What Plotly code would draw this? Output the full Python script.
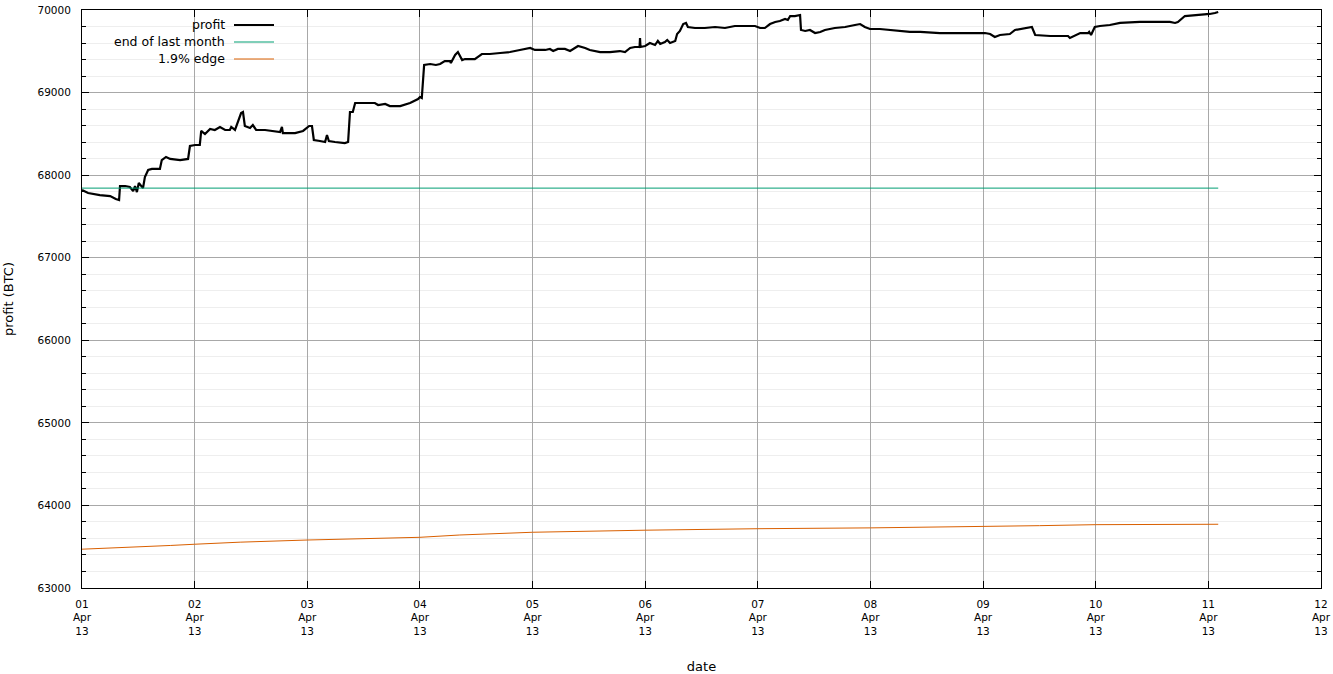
import pandas as pd
import plotly.graph_objects as go

# ---- data (hours after 2013-04-01 00:00, BTC) ----
profit_hours = [0, 1.3, 3.8, 6.0, 7.2, 7.9, 8.1, 9.2, 10.2, 10.9, 11.3, 11.7, 12.1, 13.0, 13.4, 14.1,
                14.9, 16.6, 17.0, 17.9, 18.8, 20.9, 22.6, 23.0, 24.1, 25.1, 25.4, 26.2, 27.3, 28.3,
                29.4, 30.5, 31.5, 31.8, 32.6, 33.2, 33.9, 34.3, 34.7, 35.8, 36.4, 37.1, 39.0, 42.2,
                42.6, 42.8, 45.4, 47.1, 48.4, 49.0, 49.4, 50.7, 51.8, 52.2, 52.6, 53.9, 56.0, 56.7,
                57.1, 57.7, 58.2, 60.3, 62.4, 63.1, 64.6, 65.6, 67.8, 69.9, 71.6, 72.0, 72.4, 72.9,
                74.2, 75.4, 76.3, 77.3, 78.4, 78.6, 79.5, 80.1, 80.5, 81.0, 81.6, 83.7, 85.2, 86.9,
                89.1, 91.2, 93.3, 95.5, 96.5, 98.7, 99.7, 100.4, 101.4, 102.9, 104.0, 105.7, 107.2,
                108.2, 110.4, 112.5, 114.6, 115.7, 116.8, 117.8, 118.8, 118.9, 119.0, 120.0, 121.0,
                122.1, 122.7, 123.2, 124.2, 124.7, 125.3, 126.4, 126.8, 127.4, 128.1, 128.7, 129.1,
                130.6, 132.7, 134.9, 137.0, 139.1, 141.3, 143.4, 144.5, 145.5, 146.6, 147.7, 148.7,
                149.8, 150.4, 150.9, 151.9, 153.0, 153.2, 154.1, 155.1, 156.2, 157.3, 158.3, 160.4,
                162.6, 164.7, 165.8, 166.8, 167.9, 170.0, 172.2, 173.2, 174.3, 175.4, 176.4, 178.6,
                182.8, 187.1, 191.3, 192.4, 193.5, 194.5, 195.6, 197.7, 198.8, 202.0, 202.4, 203.1,
                206.3, 209.5, 210.1, 210.5, 212.7, 214.4, 214.6, 215.0, 215.8, 216.9, 219.0, 221.2,
                225.4, 229.7, 231.8, 232.9, 233.5, 235.0, 238.2, 240.3, 241.4, 242.1]
profit_btc = [67819, 67783, 67758, 67746, 67710, 67698, 67868, 67868, 67856, 67807, 67868, 67795, 67904,
              67843, 67977, 68062, 68075, 68075, 68183, 68220, 68196, 68183, 68196, 68353, 68365,
              68365, 68535, 68498, 68559, 68547, 68583, 68547, 68547, 68583, 68547, 68644, 68752,
              68765, 68595, 68571, 68607, 68547, 68547, 68522, 68583, 68510, 68510, 68535, 68595,
              68595, 68426, 68413, 68401, 68486, 68413, 68401, 68389, 68401, 68765, 68765, 68874,
              68874, 68874, 68849, 68862, 68837, 68837, 68874, 68922, 68946, 68934, 69334, 69346,
              69334, 69346, 69382, 69382, 69358, 69455, 69491, 69455, 69394, 69406, 69406, 69467,
              69467, 69479, 69491, 69516, 69540, 69516, 69516, 69528, 69503, 69528, 69528, 69503,
              69564, 69540, 69516, 69491, 69491, 69503, 69491, 69540, 69552, 69552, 69661, 69552,
              69564, 69600, 69576, 69625, 69588, 69612, 69637, 69600, 69625, 69710, 69746, 69830,
              69843, 69794, 69782, 69782, 69794, 69782, 69806, 69806, 69806, 69782, 69782, 69830,
              69855, 69867, 69891, 69879, 69927, 69927, 69939, 69758, 69746, 69758, 69721, 69734,
              69758, 69782, 69794, 69818, 69830, 69794, 69770, 69770, 69758, 69746, 69746, 69734,
              69734, 69734, 69721, 69721, 69721, 69721, 69709, 69673, 69697, 69709, 69758, 69794,
              69794, 69697, 69685, 69685, 69685, 69661, 69721, 69721, 69734, 69697, 69794, 69806,
              69818, 69843, 69855, 69855, 69855, 69843, 69855, 69927, 69939, 69952, 69964, 69976,
              69964]

edge_hours = [0, 10.2, 18.8, 24, 33.7, 48, 63.5, 72, 80.5, 96, 120, 132, 144, 168, 192, 204, 216,
              227.6, 242.1]
edge_btc = [63470, 63490, 63515, 63530, 63555, 63581, 63605, 63614, 63642, 63675, 63700, 63712,
            63718, 63728, 63740, 63755, 63767, 63771, 63772]

last_month_hours = [0, 242.1]
last_month_btc = [67843, 67843]

day_ticks = ["2013-04-%02d" % d for d in range(1, 13)]
day_labels = ["%02d<br>Apr<br>13" % d for d in range(1, 13)]

legend_names = ["profit", "end of last month", "1.9% edge"]
colors = ["#000000", "#009e73", "#d95f00"]
widths = [2.2, 1, 1]

start = pd.Timestamp("2013-04-01")


def to_time(hours):
    return start + pd.to_timedelta(hours, unit="h")


fig = go.Figure()
fig.add_trace(go.Scatter(x=to_time(profit_hours), y=profit_btc, mode="lines", name=legend_names[0],
                         line=dict(color=colors[0], width=widths[0])))
fig.add_trace(go.Scatter(x=to_time(last_month_hours), y=last_month_btc, mode="lines", name=legend_names[1],
                         line=dict(color=colors[1], width=widths[1])))
fig.add_trace(go.Scatter(x=to_time(edge_hours), y=edge_btc, mode="lines", name=legend_names[2],
                         line=dict(color=colors[2], width=widths[2])))

font_family = "DejaVu Sans"
grid = "#a8a8a8"

# manual gnuplot-style legend (text then sample on the right)
W, H = 1239.0, 578.0
rows_py = [25, 42, 59]
for name, c, w, py in zip(legend_names, colors, widths, rows_py):
    yp = (588 - py) / H
    fig.add_annotation(xref="paper", yref="paper", x=(227 - 82) / W, y=yp, text=name,
                       showarrow=False, xanchor="right", yanchor="middle",
                       font=dict(family=font_family, size=12.5, color="#000"))
    fig.add_shape(type="line", xref="paper", yref="paper", x0=(234 - 82) / W, x1=(274 - 82) / W,
                  y0=yp, y1=yp, line=dict(color=c, width=w))

fig.update_layout(
    width=1333, height=674, autosize=False,
    paper_bgcolor="white", plot_bgcolor="white",
    margin=dict(l=82, r=12, t=10, b=86, autoexpand=False),
    showlegend=False,
    font=dict(family=font_family, size=11, color="#000"),
)
fig.update_xaxes(
    type="date", range=[day_ticks[0], day_ticks[-1]],
    tickmode="array", tickvals=day_ticks, ticktext=day_labels,
    ticks="inside", ticklen=7, tickcolor="#000", showline=True, linecolor="#000", linewidth=1,
    mirror="ticks", showgrid=True, gridcolor=grid, gridwidth=1, zeroline=False,
    tickfont=dict(size=10.5), ticklabelstandoff=6,
    title=dict(text="date", font=dict(size=13), standoff=26),
)
fig.update_yaxes(
    range=[63000, 70000], tickmode="linear", tick0=63000, dtick=1000, tickformat="d",
    ticks="inside", ticklen=7, tickcolor="#000", showline=True, linecolor="#000", linewidth=1,
    mirror="ticks", showgrid=True, gridcolor=grid, gridwidth=1, zeroline=False,
    tickfont=dict(size=10.5), ticklabelstandoff=8,
    minor=dict(dtick=200, ticks="inside", ticklen=4, tickcolor="#000", showgrid=True, gridcolor="#eeeeee"),
    title=dict(text="profit (BTC)", font=dict(size=13), standoff=20),
)

fig.write_html("out.html", config={"displayModeBar": False},
               post_script="document.body.style.margin='0';document.body.style.padding='0';")
